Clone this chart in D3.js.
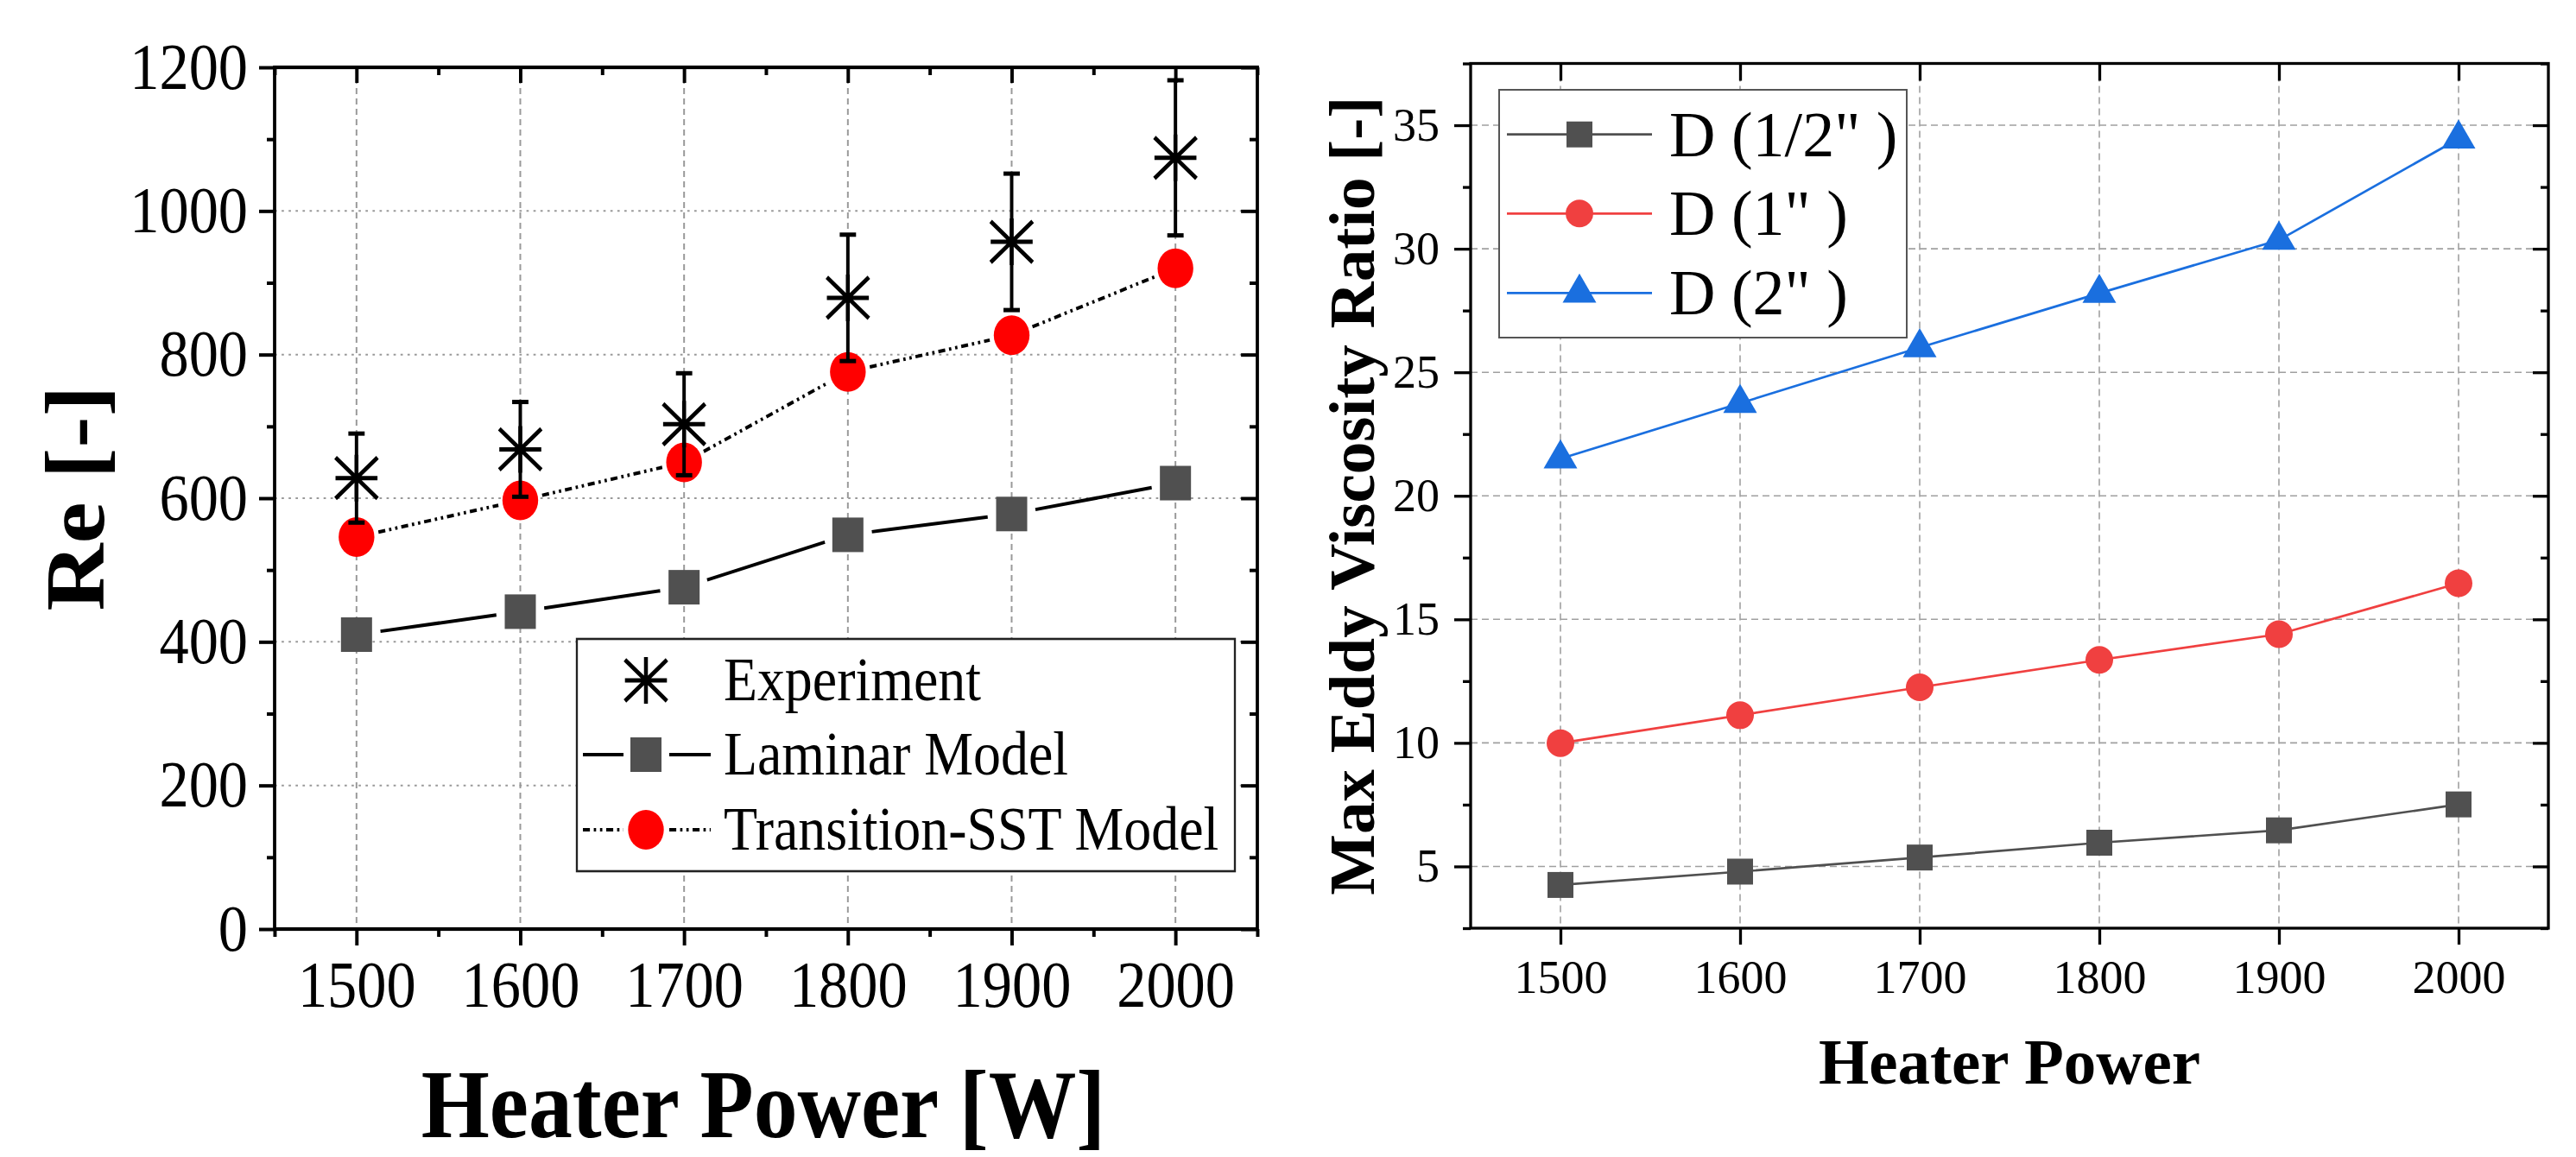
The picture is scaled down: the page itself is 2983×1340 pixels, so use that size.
<!DOCTYPE html>
<html>
<head>
<meta charset="utf-8">
<script src="https://cdn.jsdelivr.net/npm/d3@7"></script>
<style>
html, body { margin: 0; padding: 0; background: #fff; }
svg { display: block; }
</style>
</head>
<body>
<div id="chart"></div>
<script>
'use strict';

var power = [1500, 1600, 1700, 1800, 1900, 2000];
var powerMinor = [1450, 1550, 1650, 1750, 1850, 1950, 2050];

// left panel: Reynolds number
var reExperiment = [628, 668, 703, 879, 957, 1074];
var reExperimentErr = [62, 66, 71, 88, 95, 108];
var reLaminar = [410, 442, 476, 549, 578, 621];
var reTransition = [546, 597, 650, 776, 827, 920];
var reMajor = [0, 200, 400, 600, 800, 1000, 1200];
var reMinor = [100, 300, 500, 700, 900, 1100];
var reLegend = ['Experiment', 'Laminar Model', 'Transition-SST Model'];

// right panel: max eddy viscosity ratio
var eddyHalfInch = [4.25, 4.79, 5.36, 5.96, 6.46, 7.51];
var eddyOneInch = [9.99, 11.12, 12.25, 13.36, 14.40, 16.46];
var eddyTwoInch = [21.5, 23.75, 26.0, 28.2, 30.35, 34.45];
var eddyMajor = [5, 10, 15, 20, 25, 30, 35];
var eddyMinor = [2.5, 7.5, 12.5, 17.5, 22.5, 27.5, 32.5, 37.5];
var eddyLegend = ['D (1/2" )', 'D (1" )', 'D (2" )'];

var SERIF = '"Liberation Serif", "Times New Roman", serif';
var fmt = d3.format('d');

var svg = d3.select('#chart').append('svg')
    .attr('width', 2983)
    .attr('height', 1340);
svg.append('rect').attr('width', 2983).attr('height', 1340).attr('fill', '#fff');

function styleAxis(g, size, width) {
    g.select('.domain').remove();
    g.selectAll('.tick line').attr('stroke', '#000').attr('stroke-width', width);
    g.selectAll('.tick text')
        .attr('font-size', size)
        .attr('font-family', SERIF)
        .attr('fill', '#000');
}

function starPath(r) {
    var dx = r, dy = r * 0.88;
    return 'M0,' + (-r) + 'V' + r +
        'M' + (-r) + ',0H' + r +
        'M' + (-dx) + ',' + (-dy) + 'L' + dx + ',' + dy +
        'M' + dx + ',' + (-dy) + 'L' + (-dx) + ',' + dy;
}

/* ---------------- left panel (the original is squeezed horizontally) ---------------- */
var squish = 0.9;
var L = { x0: 318, x1: 1456, y0: 78, y1: 1076 };
var gL = svg.append('g').attr('transform', 'scale(' + squish + ',1)');
var xL = d3.scaleLinear().domain([1450, 2050]).range([L.x0 / squish, L.x1 / squish]);
var yL = d3.scaleLinear().domain([0, 1200]).range([L.y1, L.y0]);

gL.append('g').selectAll('line').data(power).join('line')
    .attr('x1', xL).attr('x2', xL)
    .attr('y1', L.y0).attr('y2', L.y1)
    .attr('stroke', '#999').attr('stroke-width', 2.2).attr('stroke-dasharray', '7,5');
gL.append('g').selectAll('line').data(reMajor.slice(1, -1)).join('line')
    .attr('x1', xL(1450)).attr('x2', xL(2050))
    .attr('y1', yL).attr('y2', yL)
    .attr('stroke', '#999').attr('stroke-width', 2).attr('stroke-dasharray', '3,6');

function gapped(vals, gap) {
    var segs = [];
    for (var i = 0; i < power.length - 1; i++) {
        var xa = xL(power[i]), ya = yL(vals[i]);
        var xb = xL(power[i + 1]), yb = yL(vals[i + 1]);
        var dx = xb - xa, dy = yb - ya;
        var len = Math.sqrt(dx * squish * dx * squish + dy * dy);
        var t = gap / len;
        segs.push([xa + dx * t, ya + dy * t, xb - dx * t, yb - dy * t]);
    }
    return segs;
}

gL.append('g').selectAll('line').data(gapped(reLaminar, 28)).join('line')
    .attr('x1', function (d) { return d[0]; }).attr('y1', function (d) { return d[1]; })
    .attr('x2', function (d) { return d[2]; }).attr('y2', function (d) { return d[3]; })
    .attr('stroke', '#000').attr('stroke-width', 4);
gL.append('g').selectAll('line').data(gapped(reTransition, 26)).join('line')
    .attr('x1', function (d) { return d[0]; }).attr('y1', function (d) { return d[1]; })
    .attr('x2', function (d) { return d[2]; }).attr('y2', function (d) { return d[3]; })
    .attr('stroke', '#000').attr('stroke-width', 4).attr('stroke-dasharray', '9,5,3,5,3,5');

gL.append('g').selectAll('rect').data(power).join('rect')
    .attr('x', function (d) { return xL(d) - 20; })
    .attr('y', function (d, i) { return yL(reLaminar[i]) - 20; })
    .attr('width', 40).attr('height', 40)
    .attr('fill', '#505050');
gL.append('g').selectAll('circle').data(power).join('circle')
    .attr('cx', xL)
    .attr('cy', function (d, i) { return yL(reTransition[i]); })
    .attr('r', 23)
    .attr('fill', '#ff0000');

var errG = gL.append('g').attr('stroke', '#000');
power.forEach(function (p, i) {
    var x = xL(p), lo = yL(reExperiment[i] - reExperimentErr[i]), hi = yL(reExperiment[i] + reExperimentErr[i]);
    errG.append('line').attr('x1', x).attr('x2', x).attr('y1', lo).attr('y2', hi).attr('stroke-width', 4.4);
    errG.append('line').attr('x1', x - 10.5).attr('x2', x + 10.5).attr('y1', lo).attr('y2', lo).attr('stroke-width', 5);
    errG.append('line').attr('x1', x - 10.5).attr('x2', x + 10.5).attr('y1', hi).attr('y2', hi).attr('stroke-width', 5);
});
gL.append('g').selectAll('path').data(power).join('path')
    .attr('transform', function (d, i) { return 'translate(' + xL(d) + ',' + yL(reExperiment[i]) + ')'; })
    .attr('d', starPath(27))
    .attr('fill', 'none').attr('stroke', '#000').attr('stroke-width', 5);

// legend
var legL = gL.append('g');
legL.append('rect')
    .attr('x', 668 / squish).attr('y', 740)
    .attr('width', (1430 - 668) / squish).attr('height', 1009 - 740)
    .attr('fill', '#fff').attr('stroke', '#222').attr('stroke-width', 2.6);
var legRows = [788, 874, 961];
var mx = 748 / squish;
legL.append('path')
    .attr('transform', 'translate(' + mx + ',' + legRows[0] + ')')
    .attr('d', starPath(27)).attr('fill', 'none').attr('stroke', '#000').attr('stroke-width', 5);
[[675, 722], [775, 823]].forEach(function (s) {
    legL.append('line').attr('x1', s[0] / squish).attr('x2', s[1] / squish)
        .attr('y1', legRows[1]).attr('y2', legRows[1])
        .attr('stroke', '#000').attr('stroke-width', 4);
    legL.append('line').attr('x1', s[0] / squish).attr('x2', s[1] / squish)
        .attr('y1', legRows[2]).attr('y2', legRows[2])
        .attr('stroke', '#000').attr('stroke-width', 4).attr('stroke-dasharray', '9,5,3,5,3,5');
});
legL.append('rect').attr('x', mx - 20).attr('y', legRows[1] - 20).attr('width', 40).attr('height', 40).attr('fill', '#505050');
legL.append('circle').attr('cx', mx).attr('cy', legRows[2]).attr('r', 23).attr('fill', '#ff0000');
legL.selectAll('text').data(reLegend).join('text')
    .attr('x', 931)
    .attr('y', function (d, i) { return legRows[i] + 23; })
    .attr('font-family', SERIF).attr('font-size', 71)
    .text(function (d) { return d; });

// axes
var axB = gL.append('g').attr('transform', 'translate(0,' + L.y1 + ')')
    .call(d3.axisBottom(xL).tickValues(power).tickSize(19).tickPadding(17).tickFormat(fmt));
styleAxis(axB, 76, 4.4);
styleAxis(gL.append('g').attr('transform', 'translate(0,' + L.y1 + ')')
    .call(d3.axisBottom(xL).tickValues(powerMinor).tickSize(9).tickFormat('')), 10, 4.4);
styleAxis(gL.append('g').attr('transform', 'translate(0,' + L.y0 + ')')
    .call(d3.axisBottom(xL).tickValues(power).tickSize(18).tickFormat('')), 10, 4.4);
styleAxis(gL.append('g').attr('transform', 'translate(0,' + L.y0 + ')')
    .call(d3.axisBottom(xL).tickValues(powerMinor).tickSize(9).tickFormat('')), 10, 4.4);
var axLe = gL.append('g').attr('transform', 'translate(' + xL(1450) + ',0)')
    .call(d3.axisLeft(yL).tickValues(reMajor).tickSize(20).tickPadding(14.4).tickFormat(fmt));
styleAxis(axLe, 76, 4);
styleAxis(gL.append('g').attr('transform', 'translate(' + xL(1450) + ',0)')
    .call(d3.axisLeft(yL).tickValues(reMinor).tickSize(10).tickFormat('')), 10, 4);
styleAxis(gL.append('g').attr('transform', 'translate(' + xL(2050) + ',0)')
    .call(d3.axisLeft(yL).tickValues(reMajor).tickSize(21).tickFormat('')), 10, 4);
styleAxis(gL.append('g').attr('transform', 'translate(' + xL(2050) + ',0)')
    .call(d3.axisLeft(yL).tickValues(reMinor).tickSize(10).tickFormat('')), 10, 4);

gL.append('rect')
    .attr('x', xL(1450)).attr('y', L.y0)
    .attr('width', xL(2050) - xL(1450)).attr('height', L.y1 - L.y0)
    .attr('fill', 'none').attr('stroke', '#000').attr('stroke-width', 4.2);

gL.append('text')
    .attr('x', 884 / squish).attr('y', 1317)
    .attr('text-anchor', 'middle')
    .attr('font-family', SERIF).attr('font-weight', 'bold').attr('font-size', 113)
    .text('Heater Power [W]');
gL.append('text')
    .attr('transform', 'translate(' + (120 / squish) + ',577) rotate(-90)')
    .attr('text-anchor', 'middle')
    .attr('font-family', SERIF).attr('font-weight', 'bold').attr('font-size', 108)
    .text('Re [-]');

/* ---------------- right panel ---------------- */
var R = { x0: 1703, x1: 2951, y0: 73.5, y1: 1075 };
var gR = svg.append('g');
var xR = d3.scaleLinear().domain([1450, 2050]).range([R.x0, R.x1]);
var yR = d3.scaleLinear().domain([2.5, 37.5]).range([R.y1, R.y0]);

gR.append('g').selectAll('line').data(power).join('line')
    .attr('x1', xR).attr('x2', xR).attr('y1', R.y0).attr('y2', R.y1)
    .attr('stroke', '#a0a0a0').attr('stroke-width', 1.6).attr('stroke-dasharray', '8,5');
gR.append('g').selectAll('line').data(eddyMajor).join('line')
    .attr('x1', R.x0).attr('x2', R.x1).attr('y1', yR).attr('y2', yR)
    .attr('stroke', '#a0a0a0').attr('stroke-width', 1.6).attr('stroke-dasharray', '8,5');

var series = [
    { vals: eddyHalfInch, color: '#505050', shape: 'square' },
    { vals: eddyOneInch, color: '#f04040', shape: 'circle' },
    { vals: eddyTwoInch, color: '#1a6fdf', shape: 'triangle' }
];
var symbols = {
    square: d3.symbol().type(d3.symbolSquare).size(900),
    circle: d3.symbol().type(d3.symbolCircle).size(Math.PI * 16 * 16),
    triangle: d3.symbol().type(d3.symbolTriangle).size(659)
};
var line = d3.line()
    .x(function (d, i) { return xR(power[i]); })
    .y(function (d) { return yR(d); });

series.forEach(function (s) {
    gR.append('path').datum(s.vals)
        .attr('d', line)
        .attr('fill', 'none').attr('stroke', s.color).attr('stroke-width', 2.7);
    gR.append('g').selectAll('path').data(s.vals).join('path')
        .attr('transform', function (d, i) { return 'translate(' + xR(power[i]) + ',' + yR(d) + ')'; })
        .attr('d', symbols[s.shape]())
        .attr('fill', s.color);
});

var legR = gR.append('g');
legR.append('rect')
    .attr('x', 1736).attr('y', 104).attr('width', 2208 - 1736).attr('height', 391 - 104)
    .attr('fill', '#fff').attr('stroke', '#555').attr('stroke-width', 2);
var legRRows = [155.7, 247.3, 339.3];
series.forEach(function (s, i) {
    legR.append('line').attr('x1', 1745).attr('x2', 1913)
        .attr('y1', legRRows[i]).attr('y2', legRRows[i])
        .attr('stroke', s.color).attr('stroke-width', 2.7);
    legR.append('path')
        .attr('transform', 'translate(1829,' + legRRows[i] + ')')
        .attr('d', symbols[s.shape]())
        .attr('fill', s.color);
    legR.append('text')
        .attr('x', 1933).attr('y', legRRows[i] + 25)
        .attr('font-family', SERIF).attr('font-size', 74)
        .text(eddyLegend[i]);
});

var rB = gR.append('g').attr('transform', 'translate(0,' + R.y1 + ')')
    .call(d3.axisBottom(xR).tickValues(power).tickSize(19).tickPadding(18).tickFormat(fmt));
styleAxis(rB, 54, 3.3);
styleAxis(gR.append('g').attr('transform', 'translate(0,' + R.y0 + ')')
    .call(d3.axisBottom(xR).tickValues(power).tickSize(20).tickFormat('')), 10, 3.3);
var rL = gR.append('g').attr('transform', 'translate(' + R.x0 + ',0)')
    .call(d3.axisLeft(yR).tickValues(eddyMajor).tickSize(19).tickPadding(17).tickFormat(fmt));
styleAxis(rL, 54, 3.3);
styleAxis(gR.append('g').attr('transform', 'translate(' + R.x0 + ',0)')
    .call(d3.axisLeft(yR).tickValues(eddyMinor).tickSize(9).tickFormat('')), 10, 3.3);
styleAxis(gR.append('g').attr('transform', 'translate(' + R.x1 + ',0)')
    .call(d3.axisLeft(yR).tickValues(eddyMajor).tickSize(18).tickFormat('')), 10, 3.3);
styleAxis(gR.append('g').attr('transform', 'translate(' + R.x1 + ',0)')
    .call(d3.axisLeft(yR).tickValues(eddyMinor).tickSize(9).tickFormat('')), 10, 3.3);

gR.append('rect')
    .attr('x', R.x0).attr('y', R.y0)
    .attr('width', R.x1 - R.x0).attr('height', R.y1 - R.y0)
    .attr('fill', 'none').attr('stroke', '#000').attr('stroke-width', 3.3);

gR.append('text')
    .attr('x', (R.x0 + R.x1) / 2).attr('y', 1255)
    .attr('text-anchor', 'middle')
    .attr('font-family', SERIF).attr('font-weight', 'bold').attr('font-size', 75)
    .text('Heater Power');
gR.append('text')
    .attr('transform', 'translate(1591,' + ((R.y0 + R.y1) / 2) + ') rotate(-90)')
    .attr('text-anchor', 'middle')
    .attr('font-family', SERIF).attr('font-weight', 'bold').attr('font-size', 75)
    .text('Max Eddy Viscosity Ratio [-]');
</script>
</body>
</html>
